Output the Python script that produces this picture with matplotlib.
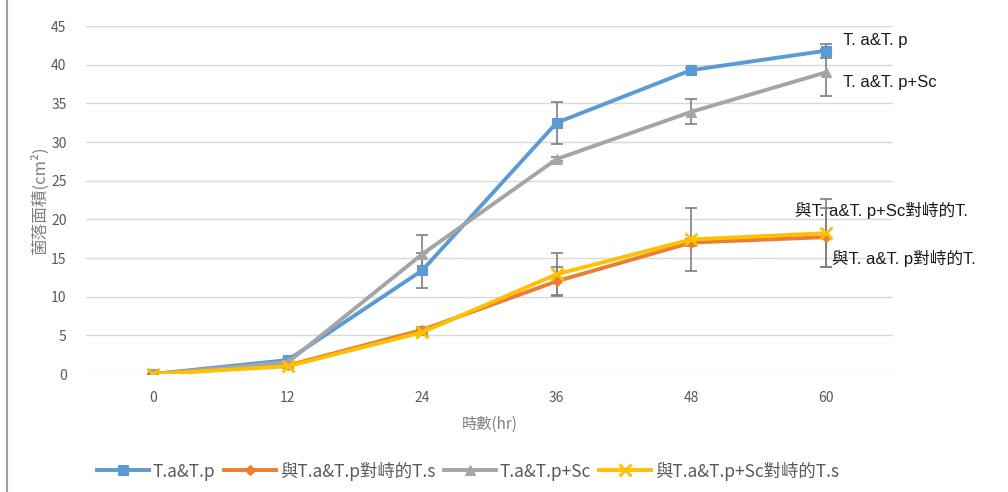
import matplotlib
matplotlib.use("Agg")
import matplotlib.pyplot as plt
from matplotlib.lines import Line2D

plt.rcParams['font.family'] = ['Noto Sans CJK TC', 'DejaVu Sans']

hours = [0, 12, 24, 36, 48, 60]
tap = [0, 1.8, 13.4, 32.5, 39.3, 41.8]
tap_err = [0, 0.2, 2.3, 2.7, 0.3, 0.9]
ts_tap = [0, 1.1, 5.7, 12.0, 17.0, 17.7]
ts_tap_err = [0, 0.2, 0.4, 1.8, 0.4, 3.8]
tapsc = [0, 1.5, 15.5, 27.8, 33.9, 39.0]
tapsc_err = [0, 0.2, 2.5, 0.3, 1.6, 3.0]
ts_tapsc = [0, 1.0, 5.4, 12.9, 17.4, 18.2]
ts_tapsc_err = [0, 0.2, 0.4, 2.8, 4.1, 4.4]

labels = ['T.a&T.p', '與T.a&T.p對峙的T.s', 'T.a&T.p+Sc', '與T.a&T.p+Sc對峙的T.s']
end_labels = ['T. a&T. p', '與T. a&T. p對峙的T.', 'T. a&T. p+Sc', '與T. a&T. p+Sc對峙的T.']
colors = ['#5B9BD5', '#ED7D31', '#A5A5A5', '#FFC000']
markers = ['s', 'D', '^', 'x']
msizes = [7, 5, 7, 8]
series = [tap, ts_tap, tapsc, ts_tapsc]
errs = [tap_err, ts_tap_err, tapsc_err, ts_tapsc_err]

fig = plt.figure(figsize=(10.08, 4.92), dpi=100)
ax = fig.add_axes([86/1008, 1-374/492, (893-86)/1008, (374-26)/492])

for y, e, c, m, ms, lab in zip(series, errs, colors, markers, msizes, labels):
    ax.errorbar(hours, y, yerr=e, fmt='none', ecolor='#7F7F7F', elinewidth=1.2,
                capsize=4, capthick=1.2, zorder=2)
    ax.plot(hours, y, color=c, lw=2.8, marker=m, markersize=ms,
            markeredgewidth=2 if m == 'x' else 0.8, markeredgecolor=c,
            label=lab, zorder=3)

ax.set_xlim(-6, 66)
ax.set_ylim(0, 45)
ax.set_xticks(hours)
ax.set_yticks(range(0, 46, 5))
ax.tick_params(length=0, labelsize=10, labelcolor='#595959', pad=14)
ax.tick_params(axis='x', pad=12)
ax.grid(axis='y', color='#D9D9D9', lw=1)
ax.set_axisbelow(True)
for s in ax.spines.values():
    s.set_visible(False)

ax.set_ylabel('菌落面積(cm²)', fontsize=12, color='#7F7F7F', labelpad=2)
ax.set_xlabel('時數(hr)', fontsize=11, color='#7F7F7F', labelpad=8)

lab_font = ['Liberation Sans', 'Noto Sans CJK TC']
label_pos = [(843, 40), (832, 258), (843, 83), (795, 210)]
for txt, (px, py) in zip(end_labels, label_pos):
    fig.text(px/1008, 1-py/492, txt, fontsize=12, color='#1a1a1a',
             va='center', ha='left', family=lab_font)

leg = fig.legend(loc='center', bbox_to_anchor=(468/1008, 1-471/492), ncol=4, frameon=False,
                 fontsize=12.5, handlelength=3.0, columnspacing=0.5, handletextpad=0.2)
for t in leg.get_texts():
    t.set_color('#595959')

fig.add_artist(Line2D([7/1008, 7/1008], [0, 1], transform=fig.transFigure,
                      color='#A0A0A0', lw=1.5))

fig.savefig('out.png', dpi=100)
